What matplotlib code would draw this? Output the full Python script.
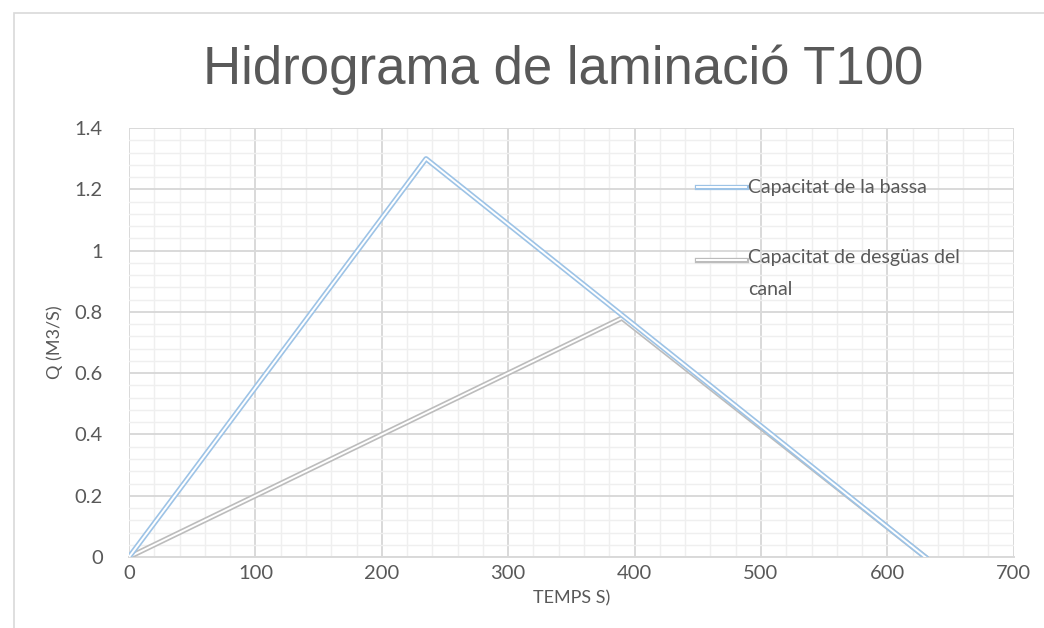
import matplotlib
matplotlib.use("Agg")
import matplotlib.pyplot as plt
import matplotlib.patheffects as pe
from matplotlib.lines import Line2D
from matplotlib.patches import Rectangle
from matplotlib.ticker import MultipleLocator, FuncFormatter

# Data
temps_bassa = [0, 235, 630]
q_bassa = [0, 1.3, 0]
temps_canal = [0, 390, 630]
q_canal = [0, 0.78, 0]

title = "Hidrograma de laminació T100"
label_bassa = "Capacitat de la bassa"
label_canal = "Capacitat de desgüas del\ncanal"

blue = "#9dc3e6"
gray = "#bcbcbc"
text_col = "#595959"

plt.rcParams["font.family"] = ["Lato", "DejaVu Sans"]

fig = plt.figure(figsize=(10.44, 6.28), dpi=100)
ax = fig.add_axes([0.1236, 0.113, 0.8474, 0.683])

# chart frame
fig.add_artist(Rectangle((14 / 1044, -0.1), 1.2, 1 - 13 / 628 + 0.1,
                         transform=fig.transFigure, fill=False,
                         edgecolor="#d9d9d9", lw=1.2))


def double_line(color):
    return [pe.Stroke(linewidth=3.8, foreground=color),
            pe.Stroke(linewidth=1.4, foreground="white")]


ax.plot(temps_canal, q_canal, color=gray, path_effects=double_line(gray), zorder=3)
ax.plot(temps_bassa, q_bassa, color=blue, path_effects=double_line(blue), zorder=4)

ax.set_xlim(0, 700)
ax.set_ylim(0, 1.4)
ax.xaxis.set_major_locator(MultipleLocator(100))
ax.xaxis.set_minor_locator(MultipleLocator(20))
ax.yaxis.set_major_locator(MultipleLocator(0.2))
ax.yaxis.set_minor_locator(MultipleLocator(0.04))
ax.yaxis.set_major_formatter(FuncFormatter(lambda v, p: f"{v:g}"))

ax.grid(which="major", color="#d9d9d9", lw=1.4, zorder=1)
ax.grid(which="minor", color="#efefef", lw=1.0, zorder=0)
ax.set_axisbelow(True)
for s in ax.spines.values():
    s.set_visible(False)
ax.spines["bottom"].set_visible(True)
ax.spines["bottom"].set_color("#d9d9d9")
ax.spines["bottom"].set_linewidth(1.4)
ax.tick_params(which="both", length=0, labelsize=14.5, labelcolor=text_col)
ax.tick_params(axis="x", pad=6)
ax.tick_params(axis="y", pad=19)

ax.set_xlabel("TEMPS S)", fontsize=13, color=text_col, labelpad=6)
ax.set_ylabel("Q (M3/S)", fontsize=13, color=text_col, labelpad=8)

fig.text(0.539, 1 - 70 / 628, title, ha="center", va="center", fontsize=38,
         color=text_col, family=["Liberation Sans", "DejaVu Sans"])

# legend
fig.add_artist(Line2D([697 / 1044, 746 / 1044], [1 - 187 / 628] * 2,
                      color=blue, path_effects=double_line(blue)))
fig.add_artist(Line2D([697 / 1044, 746 / 1044], [1 - 260 / 628] * 2,
                      color=gray, path_effects=double_line(gray)))
fig.text(748 / 1044, 1 - 187 / 628, label_bassa, ha="left", va="center",
         fontsize=14, color=text_col)
fig.text(748 / 1044, 1 - 249 / 628, label_canal, ha="left", va="top",
         fontsize=14, color=text_col, linespacing=2.05)

fig.savefig("out.png", dpi=100)
